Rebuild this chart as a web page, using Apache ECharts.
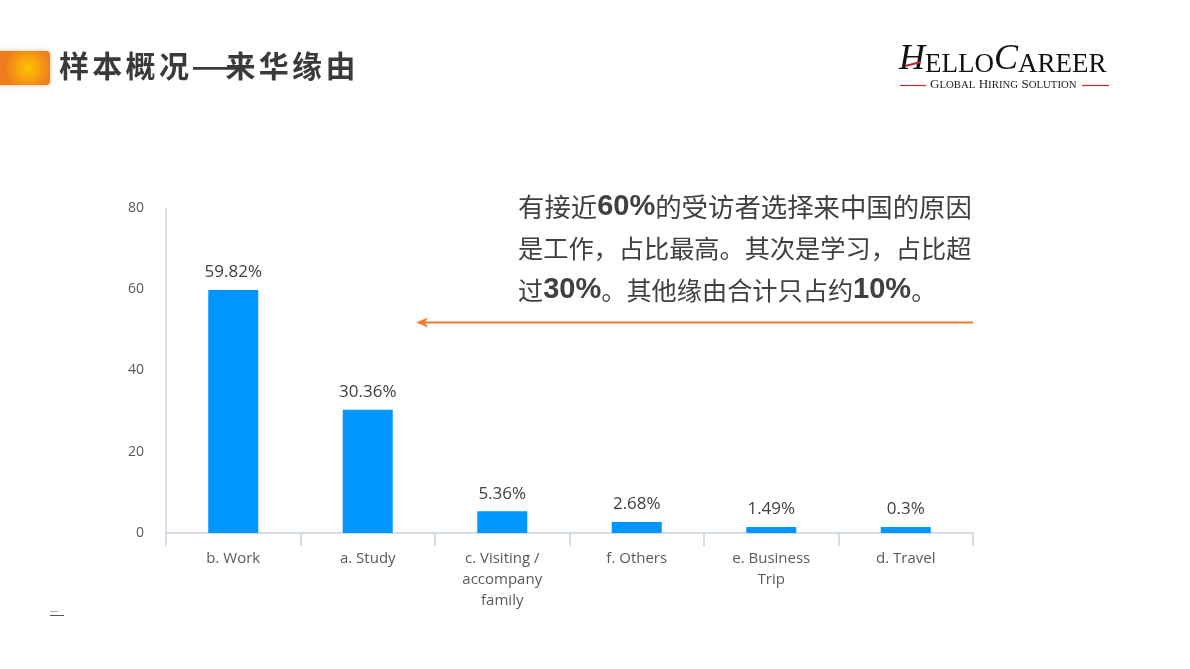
<!DOCTYPE html>
<html>
<head>
<meta charset="utf-8">
<script src="https://cdn.jsdelivr.net/npm/echarts@6/dist/echarts.min.js"></script>
<style>
html,body{margin:0;padding:0;background:#fff;}
#main{width:1190px;height:669px;}
</style>
</head>
<body>
<div id="main"></div>
<script>
var categories = ['b. Work', 'a. Study', 'c. Visiting /\naccompany\nfamily', 'f. Others', 'e. Business\nTrip', 'd. Travel'];
var values = [59.82, 30.36, 5.36, 2.68, 1.49, 0.3];
var yTicks = [0, 20, 40, 60, 80];
var titleText = '样本概况—来华缘由';
var noteLines = [
  '有接近{n|60%}的受访者选择来中国的原因',
  '是工作，占比最高。其次是学习，占比超',
  '过{n|30%}。其他缘由合计只占约{n|10%}。'
];

var chart = echarts.init(document.getElementById('main'));
var sans = '"Open Sans", "Noto Sans", sans-serif';
var cjk = '"Noto Sans CJK SC", sans-serif';

var graphics = [
  {
    type: 'rect',
    shape: { x: -8, y: 51, width: 58, height: 34, r: 4 },
    style: {
      fill: new echarts.graphic.RadialGradient(0.62, 0.5, 0.7, [
        { offset: 0, color: '#ffc400' },
        { offset: 1, color: '#f07a1e' }
      ]),
      shadowBlur: 6,
      shadowColor: 'rgba(240,140,40,0.45)'
    }
  },
  {
    type: 'text',
    left: 899,
    top: 42,
    style: {
      text: '{b|H}{s|ELLO}{b|C}{s|AREER}',
      rich: {
        b: { fontSize: 36, fontFamily: '"Liberation Serif", serif', fontStyle: 'italic', fill: '#111', verticalAlign: 'bottom' },
        s: { fontSize: 27, fontFamily: '"Liberation Serif", serif', fill: '#111', verticalAlign: 'bottom' }
      }
    }
  },
  {
    type: 'line',
    shape: { x1: 905, y1: 66, x2: 921, y2: 62 },
    style: { stroke: '#c8262c', lineWidth: 2 }
  },
  {
    type: 'line',
    shape: { x1: 900, y1: 85.5, x2: 926, y2: 85.5 },
    style: { stroke: '#c8262c', lineWidth: 1.2 }
  },
  {
    type: 'line',
    shape: { x1: 1082, y1: 85.5, x2: 1109, y2: 85.5 },
    style: { stroke: '#c8262c', lineWidth: 1.2 }
  },
  {
    type: 'text',
    left: 930,
    top: 78,
    style: {
      text: '{b|G}{s|LOBAL} {b|H}{s|IRING} {b|S}{s|OLUTION}',
      rich: {
        b: { fontSize: 13, fontFamily: '"Liberation Serif", serif', fill: '#222', verticalAlign: 'bottom' },
        s: { fontSize: 10.8, fontFamily: '"Liberation Serif", serif', fill: '#222', verticalAlign: 'bottom' }
      }
    }
  },
  {
    type: 'line',
    shape: { x1: 420, y1: 322.5, x2: 973, y2: 322.5 },
    style: { stroke: '#ee7d31', lineWidth: 2 }
  },
  {
    type: 'polygon',
    shape: { points: [[416, 322.5], [428, 317.5], [425, 322.5], [428, 327.5]] },
    style: { fill: '#ee7d31' }
  },
  {
    type: 'line',
    shape: { x1: 50, y1: 611.5, x2: 58, y2: 611.5 },
    style: { stroke: '#aaaaaa', lineWidth: 1 }
  },
  {
    type: 'line',
    shape: { x1: 50, y1: 615.5, x2: 64, y2: 615.5 },
    style: { stroke: '#555555', lineWidth: 1 }
  }
];

// annotation lines (first line is justified in the reference, so slightly wider font)
var noteSizes = [26.4, 25.2, 25.2];
for (var k = 0; k < noteLines.length; k++) {
  graphics.push({
    type: 'text',
    x: 518,
    y: 207 + k * 41.5,
    style: {
      text: noteLines[k],
      font: noteSizes[k] + 'px ' + cjk,
      fill: '#404040',
      verticalAlign: 'middle',
      rich: {
        n: { fontSize: 29, fontWeight: 'bold', fontFamily: '"Liberation Sans", Arial, sans-serif', fill: '#404040' }
      }
    }
  });
}

// title characters spaced out like the reference
var titleChars = Array.from(titleText);
for (var i = 0; i < titleChars.length; i++) {
  var isDash = titleChars[i] === '—';
  graphics.push({
    type: 'text',
    x: 59 + i * 33.3 + (isDash ? -2 : 0),
    y: 51,
    scaleX: isDash ? 1.9 : 1,
    originX: 0,
    style: { text: titleChars[i], font: 'bold 30px ' + cjk, fill: '#3a3a3a' }
  });
}

chart.setOption({
  backgroundColor: '#ffffff',
  animation: false,
  grid: { left: 166, right: 217, top: 208, bottom: 136 },
  xAxis: {
    type: 'category',
    data: categories,
    axisLine: { show: true, lineStyle: { color: '#c9d4e4', width: 1.5 } },
    axisTick: { show: true, alignWithLabel: false, length: 13, lineStyle: { color: '#c9d4e4', width: 1.5 } },
    axisLabel: { color: '#595959', fontSize: 15, fontFamily: sans, margin: 15, lineHeight: 21, interval: 0 }
  },
  yAxis: {
    type: 'value',
    min: yTicks[0],
    max: yTicks[yTicks.length - 1],
    interval: 20,
    axisLine: { show: true, lineStyle: { color: '#c9d4e4', width: 1.5 } },
    axisTick: { show: false },
    splitLine: { show: false },
    axisLabel: { color: '#595959', fontSize: 14, fontFamily: sans, margin: 22 }
  },
  series: [{
    type: 'bar',
    data: values,
    barWidth: 50,
    barMinHeight: 6,
    itemStyle: { color: '#0095ff' },
    label: {
      show: true,
      position: 'top',
      distance: 9,
      color: '#404040',
      fontSize: 17,
      fontFamily: sans,
      formatter: function (p) { return p.value + '%'; }
    }
  }],
  graphic: graphics
});
</script>
</body>
</html>
